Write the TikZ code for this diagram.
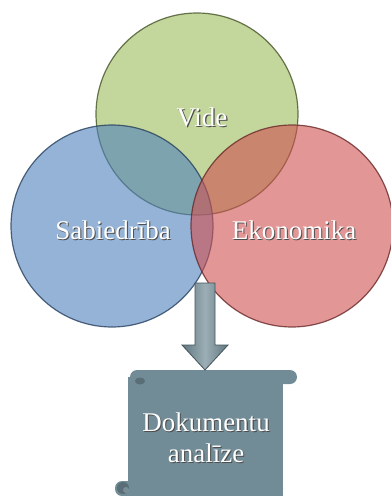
\documentclass[tikz,border=0pt]{standalone}
\usepackage{fontspec}
\setmainfont{Liberation Serif}
\usepackage{xcolor}
\usetikzlibrary{positioning}

\definecolor{videgreen}{HTML}{9BBB59}
\definecolor{sabblue}{HTML}{4F81BD}
\definecolor{ekored}{HTML}{D05050}
\definecolor{docgray}{HTML}{718C96}

\newcommand{\shadowtxt}[1]{\leavevmode\rlap{\kern1.2pt\raisebox{-1.2pt}{\color{black!70}#1}}#1}

\tikzset{
  venn/.style={circle, minimum size=202pt, inner sep=0pt, line width=1.2pt, fill opacity=0.6, draw opacity=0.8},
  lbl/.style={text=white, inner sep=0pt, font=\rmfamily\fontsize{27}{31}\selectfont},
  docfill/.style={fill=docgray},
  curl/.style={fill=docgray!70!black, opacity=0.7}
}

\begin{document}
\begin{tikzpicture}[x=1pt, y=-1pt]
    \useasboundingbox (0,0) rectangle (391,496);

    % three circles
    \node[venn, fill=videgreen, draw=videgreen!45!black] (vide) at (197,114) {};
    \node[venn, fill=sabblue, draw=sabblue!50!black] (sab) at (112,226) {};
    \node[venn, fill=ekored, draw=ekored!50!black] (eko) at (292,226) {};

    \node[lbl] (videtxt) at (202,118) {\shadowtxt{Vide}};
    \node[lbl] (sabtxt) at (113,231) {\shadowtxt{Sabiedrība}};
    \node[lbl] (ekotxt) at (294,231) {\shadowtxt{Ekonomika}};

    % scroll
    \coordinate (scrolltop) at (205,370);
    \fill[docfill, rounded corners=7pt] (130,370) rectangle (297,384);
    \fill[docfill] (128,377) rectangle (283,490);
    \fill[docfill, rounded corners=7pt] (115,481) rectangle (283,496);
    \fill[docfill] (128,481) rectangle (283,496);
    \fill[curl] (140,381) ellipse (5pt and 3.5pt);
    \fill[curl] (123,488) circle (6pt);
    \fill[docgray!80!white, opacity=0.6] (126,490) circle (3pt);

    \node[lbl, align=center] (doc) at (206,438) {\shadowtxt{Dokumentu}\\\shadowtxt{analīze}};

    % arrow
    \coordinate (arrtop) at (205,283);
    \draw[draw=docgray!60!black, line width=0.8pt, left color=docgray!85!black, right color=docgray!85!black, middle color=docgray!70!white]
        (arrtop) ++(-10,0) -- ++(20,0) -- ++(0,62) -- ++(13,0) -- (scrolltop)
        -- ++(-23,-25) -- ++(13,0) -- cycle;
\end{tikzpicture}
\end{document}
